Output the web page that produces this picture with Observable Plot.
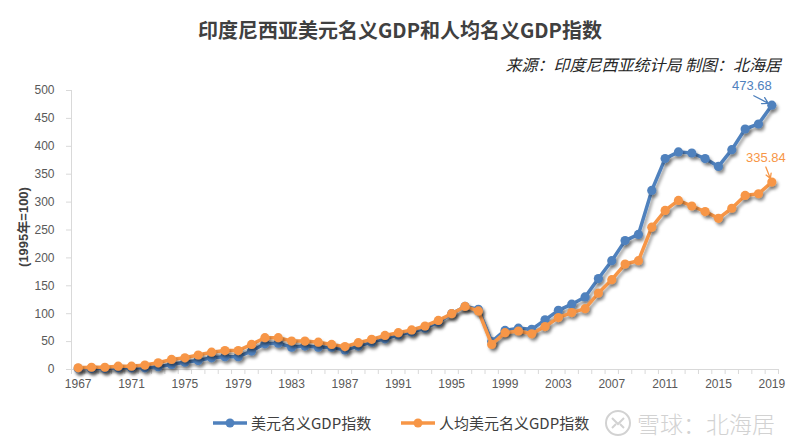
<!DOCTYPE html>
<html><head><meta charset="utf-8">
<script src="https://cdn.jsdelivr.net/npm/d3@7"></script>
<script src="https://cdn.jsdelivr.net/npm/@observablehq/plot@0.6"></script>
<style>
body{margin:0;width:800px;height:443px;position:relative;background:#fff;font-family:"Noto Sans CJK SC","Noto Sans",sans-serif;overflow:hidden}
#title{position:absolute;left:0;width:800px;top:16px;text-align:center;font-size:20px;font-weight:bold;color:#404040;line-height:28px;white-space:nowrap}
#sub{position:absolute;right:19px;top:52px;font-size:16px;font-style:italic;color:#262626;line-height:24px;white-space:nowrap}
#chart{position:absolute;left:0;top:78px}
#ylab{position:absolute;left:22px;top:227px;transform:translate(-50%,-50%) rotate(-90deg);font-size:13px;font-weight:bold;color:#404040;white-space:nowrap;font-family:"Liberation Sans","Noto Sans CJK SC",sans-serif}
.leg{position:absolute;top:411px;font-size:15px;color:#404040;line-height:24px;white-space:nowrap}
.sw{position:absolute;top:415px}
#wm{position:absolute;left:637px;top:406px;font-size:23px;color:#d2d2d2;line-height:34px;white-space:nowrap;font-weight:300}
</style></head>
<body>
<div id="title">印度尼西亚美元名义GDP和人均名义GDP指数</div>
<div id="sub">来源：印度尼西亚统计局 制图：北海居</div>
<div id="chart"></div>
<div id="ylab">(1995年=100)</div>
<svg class="sw" style="left:212px" width="36" height="16"><line x1="1" y1="8" x2="35" y2="8" stroke="#4F81BD" stroke-width="3.5"/><circle cx="18" cy="8" r="4.5" fill="#4F81BD"/></svg>
<div class="leg" style="left:251px">美元名义GDP指数</div>
<svg class="sw" style="left:400px" width="36" height="16"><line x1="1" y1="8" x2="35" y2="8" stroke="#F79646" stroke-width="3.5"/><circle cx="18" cy="8" r="4.5" fill="#F79646"/></svg>
<div class="leg" style="left:439px">人均美元名义GDP指数</div>
<svg class="sw" style="left:604px;top:409px" width="28" height="28"><circle cx="14" cy="14" r="12" fill="none" stroke="#d2d2d2" stroke-width="2"/><path d="M8 9 L14 15 L20 9 M8 19 L12 15 M16 15 L20 19" fill="none" stroke="#d2d2d2" stroke-width="2"/></svg>
<div id="wm">雪球：北海居</div>
<script>
const years = [1967,1968,1969,1970,1971,1972,1973,1974,1975,1976,1977,1978,1979,1980,1981,1982,1983,1984,1985,1986,1987,1988,1989,1990,1991,1992,1993,1994,1995,1996,1997,1998,1999,2000,2001,2002,2003,2004,2005,2006,2007,2008,2009,2010,2011,2012,2013,2014,2015,2016,2017,2018,2019];
const gdpIndex = [2,2,2,3,3,3,5,9,13,16,21,23,23,33,46,47,40,42,40,40,35,42,49,55,62,67,74,85,100,113,108,50,70,74,72,89,106,117,130,163,195,231,242,321,378,390,388,378,364,394,431,440,473.68];
const perCapitaIndex = [3,4,4,6,6,8,12,18,21,26,31,34,34,45,57,57,51,51,49,45,41,48,54,61,66,71,78,88,100,113,105,45,66,69,64,77,93,102,109,137,161,189,195,255,285,303,293,283,271,289,312,315,335.84];
const xTickLabels = [1967,1971,1975,1979,1983,1987,1991,1995,1999,2003,2007,2011,2015,2019];
const yTicks = [0,50,100,150,200,250,300,350,400,450,500];
const seriesNames = ["美元名义GDP指数","人均美元名义GDP指数"];
const colors = ["#4F81BD","#F79646"];

const blueData = years.map((y,i)=>({year:y, value:gdpIndex[i]}));
const orangeData = years.map((y,i)=>({year:y, value:perCapitaIndex[i]}));
const edges = years.map(y=>y-0.5).concat([years[years.length-1]+0.5]);
const lastB = blueData[blueData.length-1];
const lastO = orangeData[orangeData.length-1];

const chart = Plot.plot({
  width: 800, height: 318,
  marginLeft: 71, marginRight: 22, marginTop: 12, marginBottom: 27,
  style: {fontFamily: "'Liberation Sans', Arial, sans-serif", fontSize: "12px", background: "transparent"},
  x: {domain: [years[0]-0.5, years[years.length-1]+0.5]},
  y: {domain: [0, 500]},
  marks: [
    Plot.ruleY([0], {stroke: "#d9d9d9", strokeWidth: 1}),
    Plot.ruleX([years[0]-0.5], {stroke: "#d9d9d9", strokeWidth: 1}),
    Plot.axisY(yTicks, {tickSize: 5, tickPadding: 12, stroke: "#d9d9d9", fill: "#595959", label: null, fontSize: 12}),
    Plot.axisX(edges, {tickSize: 5, tickFormat: () => "", stroke: "#d9d9d9", label: null}),
    Plot.axisX(xTickLabels, {tickSize: 0, tickPadding: 10, tickFormat: d => String(d), fill: "#595959", label: null, fontSize: 12}),
    Plot.line(blueData, {x: "year", y: "value", stroke: colors[0], strokeWidth: 3.5}),
    Plot.dot(blueData, {x: "year", y: "value", r: 4.6, fill: colors[0]}),
    Plot.line(orangeData, {x: "year", y: "value", stroke: colors[1], strokeWidth: 3.5}),
    Plot.dot(orangeData, {x: "year", y: "value", r: 4.6, fill: colors[1]}),
    Plot.arrow([lastB], {x1: d => d.year-1.35, y1: d => d.value+17, x2: "year", y2: "value", stroke: colors[0], strokeWidth: 1.3, insetEnd: 4, headLength: 8, bend: false}),
    Plot.arrow([lastO], {x1: d => d.year-0.45, y1: d => d.value+27, x2: "year", y2: "value", stroke: colors[1], strokeWidth: 1.3, insetEnd: 4, headLength: 8, bend: false}),
    Plot.text([lastB], {x: "year", y: "value", text: d => d.value.toFixed(2), dx: -20, dy: -19, fill: colors[0], fontSize: 13}),
    Plot.text([lastO], {x: "year", y: "value", text: d => d.value.toFixed(2), dx: -6, dy: -24, fill: colors[1], fontSize: 13})
  ]
});

const ns = "http://www.w3.org/2000/svg";
const defs = document.createElementNS(ns, "defs");
defs.innerHTML = '<filter id="sh" x="-10%" y="-10%" width="130%" height="130%"><feDropShadow dx="2" dy="3" stdDeviation="1.6" flood-color="#000" flood-opacity="0.35"/></filter>';
chart.insertBefore(defs, chart.firstChild);
chart.querySelectorAll('g[aria-label="line"], g[aria-label="dot"]').forEach(g => g.setAttribute("filter", "url(#sh)"));
document.getElementById("chart").appendChild(chart);
</script>
</body></html>
